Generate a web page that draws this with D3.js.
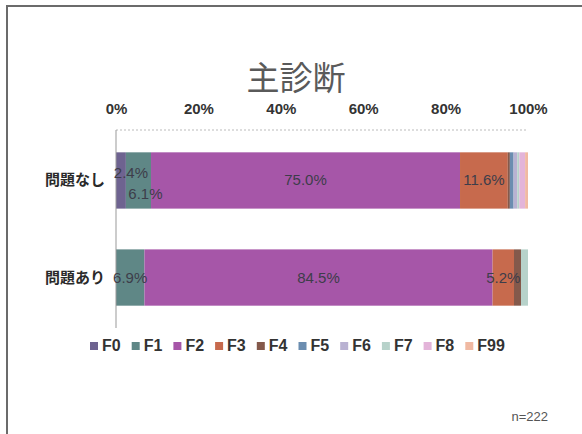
<!DOCTYPE html>
<html><head><meta charset="utf-8">
<script src="https://cdn.jsdelivr.net/npm/d3@7/dist/d3.min.js"></script>
<style>body{margin:0;background:#fff}svg{display:block}</style>
</head><body>
<svg id="c" width="582" height="434"></svg>
<script>
const categories = ["問題なし", "問題あり"];
const seriesNames = ["F0","F1","F2","F3","F4","F5","F6","F7","F8","F99"];
const seriesColors = ["#6e6390","#5f8786","#a656a8","#c76a4d","#84594b","#6b8db0","#b9b2d2","#b7d2ca","#e3b4d9","#f0b9a2"];
const valuesNashi = [2.4, 6.1, 75.0, 11.6, 0.5, 0.9, 0.9, 0.5, 1.4, 0.7];
const valuesAri   = [0,   6.9, 84.5, 5.2,  1.7, 0,   0,   1.7, 0,   0];
const labelsNashi = ["2.4%","6.1%","75.0%","11.6%",null,null,null,null,null,null];
const labelsAri   = [null,"6.9%","84.5%","5.2%",null,null,null,null,null,null];
const tickValues = [0,20,40,60,80,100];
const titleText = "主診断";
const noteText = "n=222";

const rows = [valuesNashi, valuesAri];
const rowLabels = [labelsNashi, labelsAri];
const svg = d3.select("#c");

// frame
svg.append("path").attr("d","M7,434 V6 H582").attr("fill","none").attr("stroke","#6b6b6b").attr("stroke-width",2);

svg.append("text").attr("x",296).attr("y",90).attr("text-anchor","middle")
  .attr("font-family","'Noto Sans CJK JP'").attr("font-size",33).attr("fill","#5a5a5a").text(titleText);

const x = d3.scaleLinear().domain([0,100]).range([116,528]);
const y = d3.scaleBand().domain(categories).range([130,328]).paddingInner(0.42).paddingOuter(0.23);

// top dotted line
svg.append("line").attr("x1",x(0)).attr("x2",x(100)).attr("y1",130).attr("y2",130)
  .attr("stroke","#bbb").attr("stroke-dasharray","2,2");

const ax = svg.append("g").attr("transform","translate(0,114)")
  .call(d3.axisTop(x).tickValues(tickValues).tickFormat(d=>d+"%").tickSize(0).tickPadding(0));
ax.select(".domain").remove();
ax.selectAll("text").attr("font-family","'Liberation Sans', Arial").attr("font-weight","bold")
  .attr("font-size",15).attr("fill","#333").attr("dy",0);

// stacked
const stackData = categories.map((c,i)=>{const o={cat:c}; seriesNames.forEach((s,j)=>o[s]=rows[i][j]); return o;});
const stack = d3.stack().keys(seriesNames)(stackData);

stack.forEach((layer,j)=>{
  svg.append("g").selectAll("rect").data(layer).join("rect")
    .attr("x",d=>x(d[0])).attr("width",d=>x(d[1])-x(d[0]))
    .attr("y",d=>y(d.data.cat)).attr("height",y.bandwidth())
    .attr("fill",seriesColors[j]);
});

// axis line
svg.append("line").attr("x1",x(0)).attr("x2",x(0)).attr("y1",130).attr("y2",328).attr("stroke","#999");

// labels
const lblOffsets = [[[10,-7],[7,14],[0,0],[0,0]],[[0,0],[0,0],[0,0],[0,0]]];
stack.forEach((layer,j)=>{
  layer.forEach((d,i)=>{
    const t = rowLabels[i][j];
    if(!t) return;
    const off = (lblOffsets[i][j]||[0,0]);
    svg.append("text").attr("x",(x(d[0])+x(d[1]))/2+off[0])
      .attr("y",y(d.data.cat)+y.bandwidth()/2+5+off[1])
      .attr("text-anchor","middle").attr("font-family","'Liberation Sans', Arial")
      .attr("font-size",15).attr("fill","#3d3d4a").text(t);
  });
});

// category labels
svg.append("g").selectAll("text").data(categories).join("text")
  .attr("x",105).attr("y",d=>y(d)+y.bandwidth()/2+5).attr("text-anchor","end")
  .attr("font-family","'Noto Sans CJK JP'").attr("font-weight","bold").attr("font-size",15)
  .attr("fill","#2a2a2a").text(d=>d);

// legend
const lg = d3.scaleBand().domain(seriesNames).range([90,507]);
const li = svg.append("g").selectAll("g").data(seriesNames).join("g")
  .attr("transform",d=>`translate(${lg(d)},351)`);
li.append("rect").attr("x",0).attr("y",-9).attr("width",8).attr("height",8).attr("fill",(d,i)=>seriesColors[i]);
li.append("text").attr("x",12).attr("y",0).attr("font-family","'Liberation Sans', Arial")
  .attr("font-weight","bold").attr("font-size",16).attr("fill","#333").text(d=>d);

svg.append("text").attr("x",548).attr("y",421).attr("text-anchor","end")
  .attr("font-family","'Liberation Sans', Arial").attr("font-size",13).attr("fill","#555").text(noteText);
</script>
</body></html>
